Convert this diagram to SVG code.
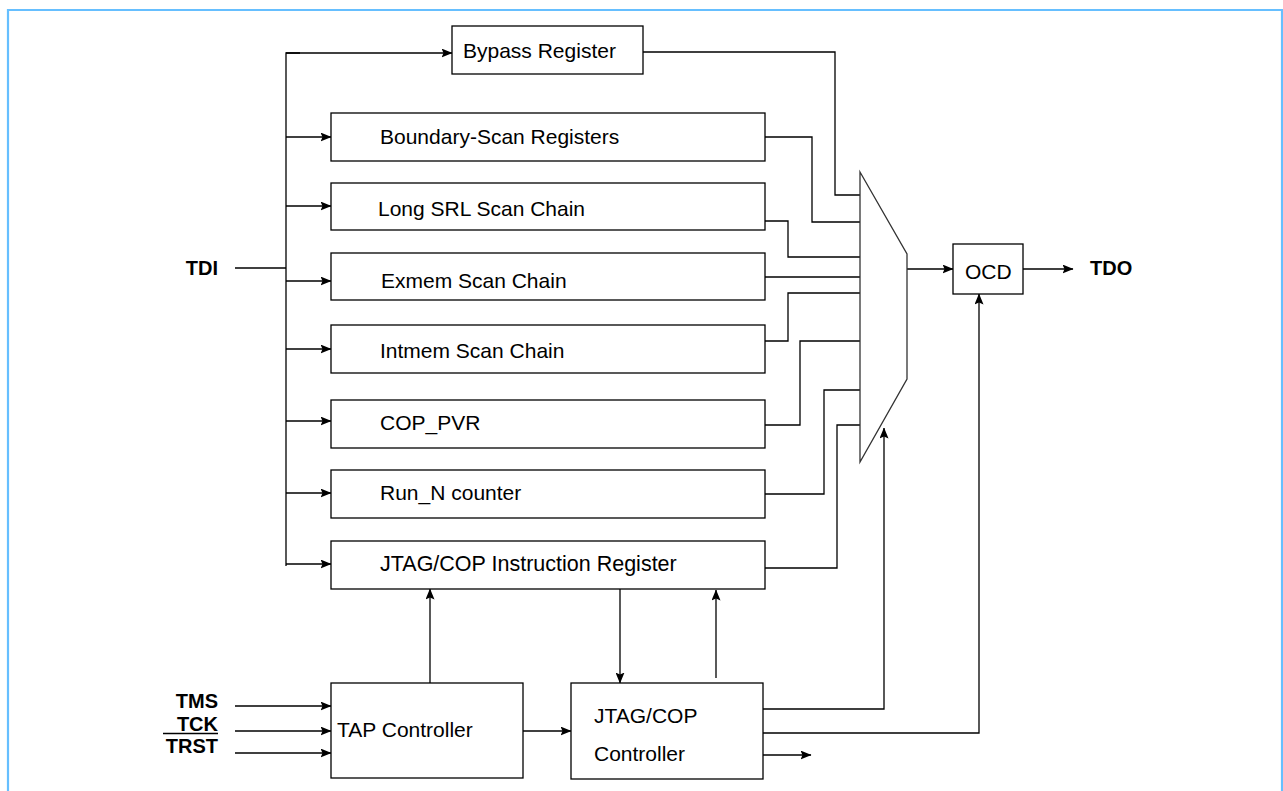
<svg xmlns="http://www.w3.org/2000/svg" width="1283" height="791" viewBox="0 0 1283 791">
<defs>
<marker id="ah" markerWidth="11" markerHeight="9" refX="10.5" refY="4.5" orient="auto" markerUnits="userSpaceOnUse">
<path d="M0,0 L11,4.5 L0,9 L2,4.5 Z" fill="#000"/>
</marker>
<style>
.box{fill:#fff;stroke:#000;stroke-width:1.3}
.ln{fill:none;stroke:#000;stroke-width:1.3}
.ar{fill:none;stroke:#000;stroke-width:1.3;marker-end:url(#ah)}
.t{font-family:"Liberation Sans",Arial,sans-serif;font-size:21px;fill:#000}
.b{font-family:"Liberation Sans",Arial,sans-serif;font-size:20px;font-weight:bold;fill:#000}
</style>
</defs>
<rect x="0" y="0" width="1283" height="791" fill="#fff"/>
<path d="M8,800 L8,10 L1282,10 L1282,800" fill="none" stroke="#66BFFF" stroke-width="2.2"/>

<g id="connectors">
<line class="ln" x1="235" y1="268" x2="286" y2="268"/>
<polyline class="ln" points="286,566 286,53 300,53"/>
<line class="ar" x1="286" y1="53" x2="452" y2="53"/>
<line class="ar" x1="286" y1="137" x2="331" y2="137"/>
<line class="ar" x1="286" y1="206" x2="331" y2="206"/>
<line class="ar" x1="286" y1="281" x2="331" y2="281"/>
<line class="ar" x1="286" y1="349" x2="331" y2="349"/>
<line class="ar" x1="286" y1="421" x2="331" y2="421"/>
<line class="ar" x1="286" y1="493" x2="331" y2="493"/>
<line class="ar" x1="286" y1="564" x2="331" y2="564"/>
<polyline class="ln" points="643,52 835,52 835,195 860,195"/>
<polyline class="ln" points="765,137 812,137 812,222 860,222"/>
<polyline class="ln" points="765,221 788,221 788,257 860,257"/>
<polyline class="ln" points="765,277 862,277"/>
<polyline class="ln" points="765,341 788,341 788,293 860,293"/>
<polyline class="ln" points="765,425 800,425 800,341 860,341"/>
<polyline class="ln" points="765,494 824,494 824,390 860,390"/>
<polyline class="ln" points="765,568 837,568 837,425 860,425"/>
<line class="ar" x1="907" y1="269" x2="953" y2="269"/>
<line class="ar" x1="1023" y1="269" x2="1073" y2="269"/>
<line class="ar" x1="235" y1="706" x2="331" y2="706"/>
<line class="ar" x1="235" y1="731" x2="331" y2="731"/>
<line class="ar" x1="235" y1="753" x2="331" y2="753"/>
<line class="ar" x1="523" y1="731" x2="571" y2="731"/>
<line class="ar" x1="430" y1="683" x2="430" y2="589"/>
<line class="ar" x1="620" y1="589" x2="620" y2="683"/>
<line class="ar" x1="716" y1="678" x2="716" y2="590"/>
<polyline class="ar" points="763,709 884,709 884,428"/>
<polyline class="ar" points="763,733 979,733 979,294"/>
<line class="ar" x1="763" y1="755" x2="811" y2="755"/>
</g>

<g id="mux">
<polygon points="860,172 907,254 907,379 860,462" fill="#fff" stroke="#333" stroke-width="1.3"/>
</g>

<g id="bypass"><rect class="box" x="452" y="26" width="191" height="48"/><text class="t" x="463" y="58">Bypass Register</text></g>
<g id="boundary"><rect class="box" x="331" y="113" width="434" height="48"/><text class="t" x="380" y="144">Boundary-Scan Registers</text></g>
<g id="longsrl"><rect class="box" x="331" y="183" width="434" height="47"/><text class="t" x="378" y="216">Long SRL Scan Chain</text></g>
<g id="exmem"><rect class="box" x="331" y="253" width="434" height="47"/><text class="t" x="381" y="288">Exmem Scan Chain</text></g>
<g id="intmem"><rect class="box" x="331" y="325" width="434" height="48"/><text class="t" x="380" y="358">Intmem Scan Chain</text></g>
<g id="coppvr"><rect class="box" x="331" y="400" width="434" height="48"/><text class="t" x="380" y="430">COP_PVR</text></g>
<g id="runn"><rect class="box" x="331" y="470" width="434" height="48"/><text class="t" x="380" y="500">Run_N counter</text></g>
<g id="ir"><rect class="box" x="331" y="541" width="434" height="48"/><text class="t" x="380" y="571" style="font-size:21.5px">JTAG/COP Instruction Register</text></g>
<g id="ocd"><rect class="box" x="953" y="244" width="70" height="50"/><text class="t" x="965" y="279">OCD</text></g>
<g id="tap"><rect class="box" x="331" y="683" width="192" height="95"/><text class="t" x="337" y="737">TAP Controller</text></g>
<g id="jtagctl"><rect class="box" x="571" y="683" width="192" height="96"/><text class="t" x="594" y="723">JTAG/COP</text><text class="t" x="594" y="761">Controller</text></g>

<g id="labels">
<text class="b" x="218" y="275" text-anchor="end">TDI</text>
<text class="b" x="1090" y="275">TDO</text>
<text class="b" x="218" y="708" text-anchor="end">TMS</text>
<text class="b" x="218" y="731" text-anchor="end">TCK</text>
<line class="ln" x1="163" y1="733.5" x2="218" y2="733.5" stroke-width="1.6"/>
<text class="b" x="218" y="753" text-anchor="end">TRST</text>
</g>
</svg>
